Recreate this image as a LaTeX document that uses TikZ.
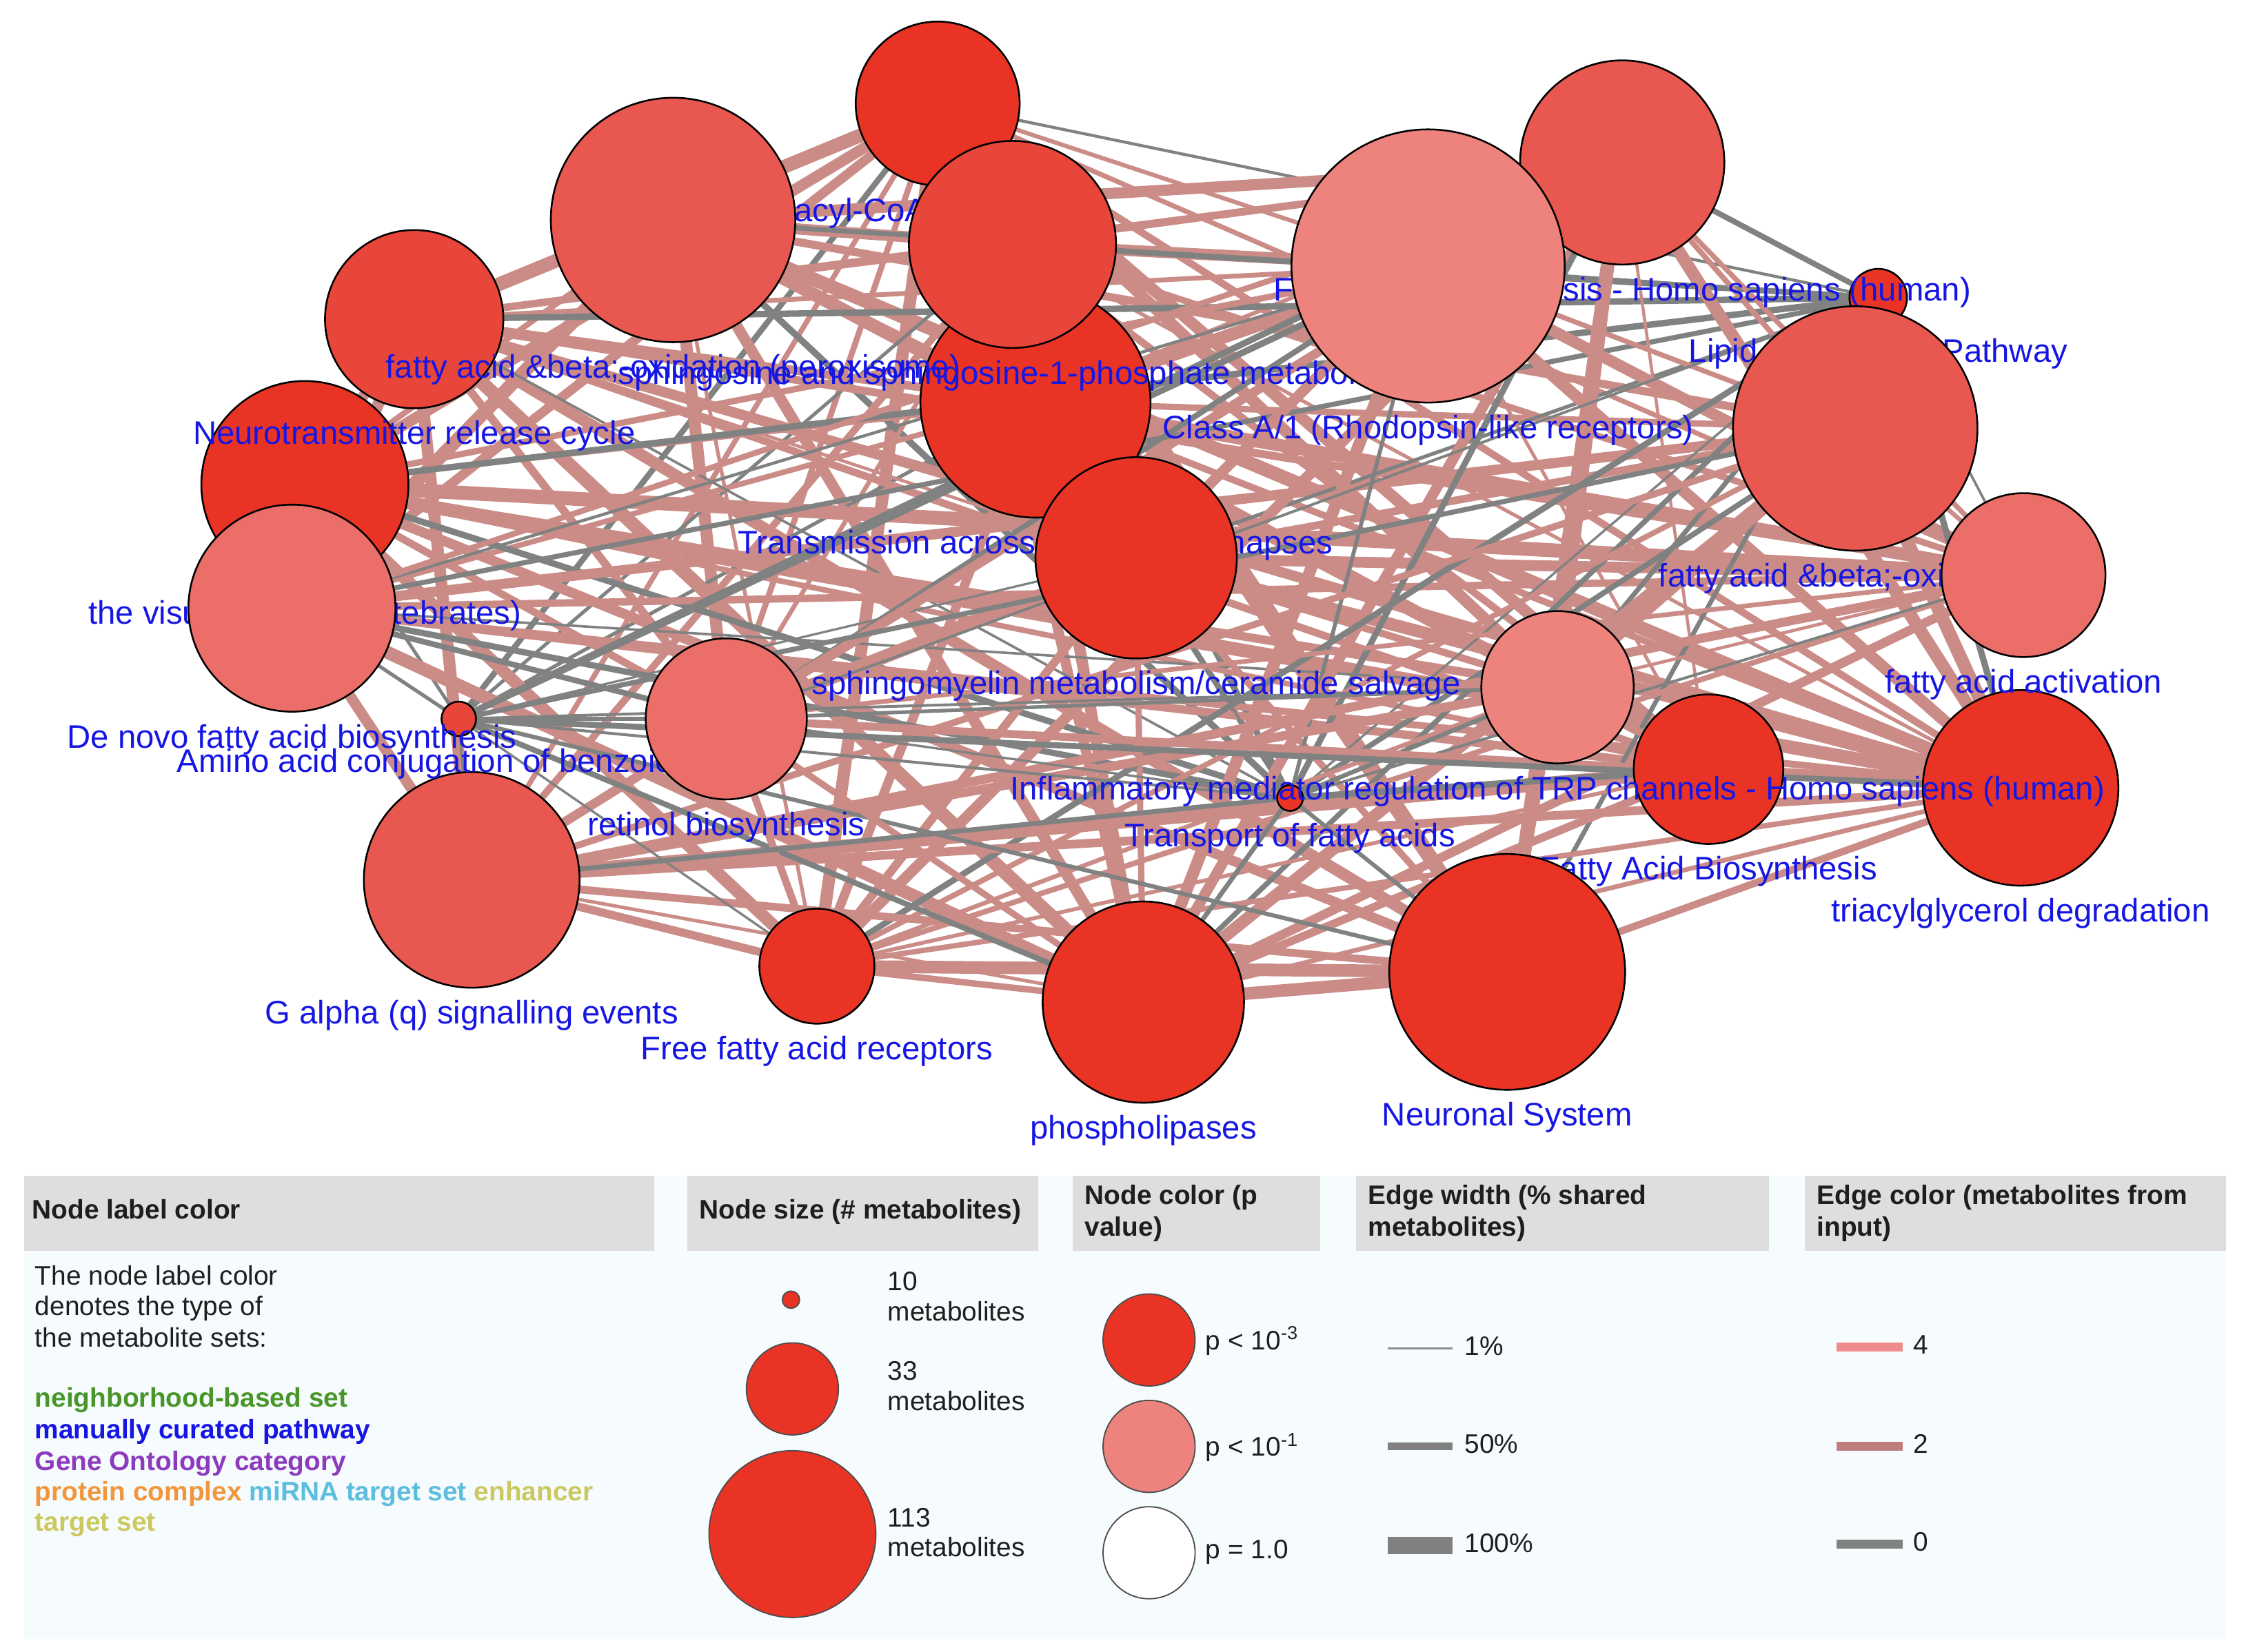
\documentclass[tikz,border=0pt]{standalone}
\usepackage{fontspec}
\setmainfont{Liberation Sans}
\usepackage{tikz}

\pgfdeclarelayer{edgelayer}
\pgfsetlayers{edgelayer,main}

\definecolor{setblue}{RGB}{22,22,228}
\definecolor{setgreen}{RGB}{72,150,42}
\definecolor{setpurple}{RGB}{140,58,190}
\definecolor{setorange}{RGB}{240,150,60}
\definecolor{setcyan}{RGB}{92,190,222}
\definecolor{setolive}{RGB}{204,200,96}
\definecolor{sigA}{RGB}{233,52,37}
\definecolor{sigB}{RGB}{232,70,58}
\definecolor{sigC}{RGB}{232,88,80}
\definecolor{sigD}{RGB}{236,110,104}
\definecolor{sigE}{RGB}{238,130,124}
\definecolor{edgerose}{RGB}{203,140,135}
\definecolor{edgesalmon}{RGB}{240,140,140}
\definecolor{edgemid}{RGB}{190,125,125}
\definecolor{edgegray}{RGB}{128,130,130}
\definecolor{legbg}{RGB}{246,251,253}
\definecolor{headgray}{RGB}{222,222,222}
\definecolor{legdark}{RGB}{30,30,30}

\begin{document}
\begin{tikzpicture}[x=0.2mm, y=-0.2mm,
    mset/.style 2 args={circle, draw=black, line width=0.7pt, fill=#2, inner sep=0pt, minimum size=#1*0.4mm},
    lbl/.style={text=setblue, font=\fontsize{12.9}{14}\selectfont, inner sep=0pt, label distance=4.4pt},
    legdot/.style 2 args={circle, draw=black!70, line width=0.5pt, fill=#2, inner sep=0pt, minimum size=#1*0.4mm},
    legtxt/.style={anchor=west, inner sep=0pt, text=legdark, text height=0.75em, text depth=0.2em, font=\fontsize{10.6}{12.5}\selectfont},
    leghead/.style={legtxt, font=\fontsize{10.6}{12.5}\selectfont\bfseries},
    legset/.style={legtxt, font=\fontsize{10.6}{12.5}\selectfont\bfseries}]
  \useasboundingbox (0,0) rectangle (1568,1149);

  % metabolite sets, in drawing order
  \node[mset={57}{sigA}, label={[lbl]below:{acyl-CoA hydrolysis}}] (n1) at (652,72) {};
  \node[mset={80}{sigA}, label={[lbl]below:{Transmission across Chemical Synapses}}] (n4) at (720,280) {};
  \node[mset={72}{sigA}, label={[lbl]below:{the visual cycle I (vertebrates)}}] (n6) at (212,337) {};
  \node[mset={62}{sigB}, label={[lbl]below:{Neurotransmitter release cycle}}] (n5) at (288,222) {};
  \node[mset={85}{sigC}, label={[lbl]below:{fatty acid \&beta;-oxidation (peroxisome)}}] (n2) at (468,153) {};
  \node[mset={72}{sigB}, label={[lbl]below:{sphingosine and sphingosine-1-phosphate metabolism}}] (n3) at (704,170) {};
  \node[mset={70}{sigA}, label={[lbl]below:{sphingomyelin metabolism/ceramide salvage}}] (n8) at (790,388) {};
  \node[mset={20}{sigA}, label={[lbl]below:{Lipid Metabolism Pathway}}] (n11) at (1306,207) {};
  \node[mset={71}{sigC}, label={[lbl]below:{Fatty acid biosynthesis - Homo sapiens (human)}}] (n10) at (1128,113) {};
  \node[mset={95}{sigE}, label={[lbl]below:{Class A/1 (Rhodopsin-like receptors)}}] (n9) at (993,185) {};
  \node[mset={85}{sigC}, label={[lbl]below:{fatty acid \&beta;-oxidation I}}] (n12) at (1290,298) {};
  \node[mset={68}{sigA}, label={[lbl]below:{triacylglycerol degradation}}] (n16) at (1405,548) {};
  \node[mset={57}{sigD}, label={[lbl]below:{fatty acid activation}}] (n13) at (1407,400) {};
  \node[mset={9}{sigA}, label={[lbl]below:{Transport of fatty acids}}] (n23) at (897,555) {};
  \node[mset={52}{sigA}, label={[lbl]below:{Fatty Acid Biosynthesis}}] (n15) at (1188,535) {};
  \node[mset={53}{sigE}, label={[lbl]below:{Inflammatory mediator regulation of TRP channels - Homo sapiens (human)}}] (n14) at (1083,478) {};
  \node[mset={82}{sigA}, label={[lbl]below:{Neuronal System}}] (n17) at (1048,676) {};
  \node[mset={70}{sigA}, label={[lbl]below:{phospholipases}}] (n18) at (795,697) {};
  \node[mset={40}{sigA}, label={[lbl]below:{Free fatty acid receptors}}] (n19) at (568,672) {};
  \node[mset={75}{sigC}, label={[lbl]below:{G alpha (q) signalling events}}] (n20) at (328,612) {};
  \node[mset={12}{sigB}, label={[lbl]below:{Amino acid conjugation of benzoic acid}}] (n22) at (319,500) {};
  \node[mset={56}{sigD}, label={[lbl]below:{retinol biosynthesis}}] (n21) at (505,500) {};
  \node[mset={72}{sigD}, label={[lbl]below:{De novo fatty acid biosynthesis}}] (n7) at (203,423) {};

  % shared metabolites
  \def\inp{{0,2,2,2,2,2,2,1,2,1,2,0,2,2,1,2,2,2,2,2,2,1,0,0}}
  \pgfmathsetseed{7}
  \begin{pgfonlayer}{edgelayer}
    \foreach \i in {1,...,22}{
      \pgfmathtruncatemacro\k{\i+1}
      \foreach \j in {\k,...,23}{
        \pgfmathsetmacro\roll{rnd}
        \pgfmathtruncatemacro\sh{\inp[\i]*\inp[\j]}
        \ifnum\sh<2
          \pgfmathsetmacro\wd{0.8+1.8*rnd}
          \def\ec{edgegray}
        \else
          \pgfmathsetmacro\wd{1.2+4.4*rnd}
          \def\ec{edgerose}
        \fi
        \ifdim\roll pt>0.2pt
          \draw[\ec, line width=\wd pt] (n\i.center) -- (n\j.center);
        \fi
      }
    }
  \end{pgfonlayer}

  % legend
  \fill[legbg] (17,818) rectangle (1548,1140);
  \foreach \xa/\xb in {17/455, 478/722, 746/918, 943/1230, 1255/1548}
    \fill[headgray] (\xa,818) rectangle (\xb,870);

  \node[leghead] (h1) at (22,843) {Node label color};
  \node[leghead] (h2) at (486,843) {Node size (\# metabolites)};
  \node[leghead] (h3a) at (754,833) {Node color (p};
  \node[leghead] (h3b) at (754,855) {value)};
  \node[leghead] (h4a) at (951,833) {Edge width (\% shared};
  \node[leghead] (h4b) at (951,855) {metabolites)};
  \node[leghead] (h5a) at (1263,833) {Edge color (metabolites from};
  \node[leghead] (h5b) at (1263,855) {input)};

  \node[legtxt] (d1) at (24,889) {The node label color};
  \node[legtxt] (d2) at (24,910) {denotes the type of};
  \node[legtxt] (d3) at (24,932) {the metabolite sets:};
  \node[legset, text=setgreen] (t1) at (24,974) {neighborhood-based set};
  \node[legset, text=setblue] (t2) at (24,996) {manually curated pathway};
  \node[legset, text=setpurple] (t3) at (24,1018) {Gene Ontology category};
  \node[legset] (t4) at (24,1039) {\textcolor{setorange}{protein complex} \textcolor{setcyan}{miRNA target set} \textcolor{setolive}{enhancer}};
  \node[legset, text=setolive] (t5) at (24,1060) {target set};

  \node[legdot={6}{sigA}] (s1) at (550,904) {};
  \node[legdot={32}{sigA}] (s2) at (551,966) {};
  \node[legdot={58}{sigA}] (s3) at (551,1067) {};
  \node[legtxt] (s1a) at (617,893) {10};
  \node[legtxt] (s1b) at (617,914) {metabolites};
  \node[legtxt] (s2a) at (617,955) {33};
  \node[legtxt] (s2b) at (617,976) {metabolites};
  \node[legtxt] (s3a) at (617,1057) {113};
  \node[legtxt] (s3b) at (617,1078) {metabolites};

  \node[legdot={32}{sigA}] (p1) at (799,932) {};
  \node[legdot={32}{sigE}] (p2) at (799,1006) {};
  \node[legdot={32}{white}] (p3) at (799,1080) {};
  \node[legtxt] (p1t) at (838,934) {p < 10\textsuperscript{-3}};
  \node[legtxt] (p2t) at (838,1008) {p < 10\textsuperscript{-1}};
  \node[legtxt] (p3t) at (838,1079) {p = 1.0};

  \draw[black!45, line width=0.3mm] (965,938) -- (1010,938);
  \draw[black!50, line width=1mm] (965,1006) -- (1010,1006);
  \draw[black!50, line width=2.4mm] (965,1075) -- (1010,1075);
  \node[legtxt] (w1) at (1018,938) {1\%};
  \node[legtxt] (w2) at (1018,1006) {50\%};
  \node[legtxt] (w3) at (1018,1075) {100\%};

  \draw[edgesalmon, line width=1.2mm] (1277,937) -- (1323,937);
  \draw[edgemid, line width=1.2mm] (1277,1006) -- (1323,1006);
  \draw[edgegray, line width=1.2mm] (1277,1074) -- (1323,1074);
  \node[legtxt] (c1) at (1330,937) {4};
  \node[legtxt] (c2) at (1330,1006) {2};
  \node[legtxt] (c3) at (1330,1074) {0};
\end{tikzpicture}
\end{document}
